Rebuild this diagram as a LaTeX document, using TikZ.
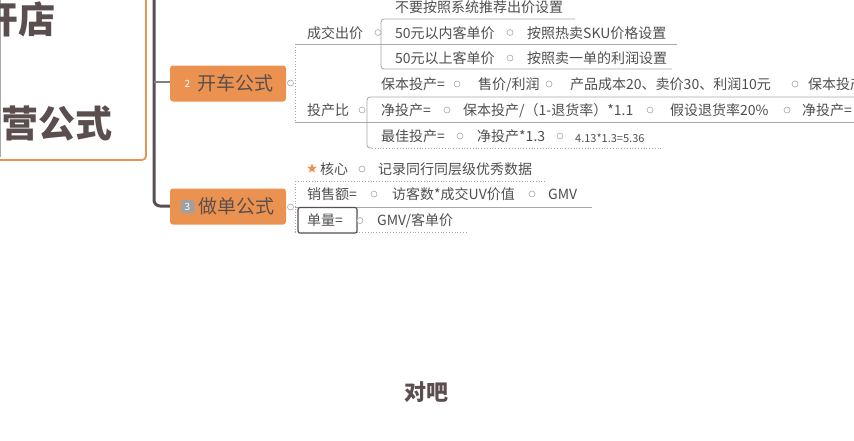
\documentclass[tikz,border=0pt]{standalone}
\usepackage{fontspec}
\setmainfont{Noto Sans CJK SC}
\usetikzlibrary{shapes.geometric}
\definecolor{orng}{HTML}{EC9250}
\definecolor{txtc}{HTML}{4F4F4F}
\definecolor{dark}{HTML}{5A4E4E}
\definecolor{lin}{HTML}{A8A8A8}
\definecolor{icon}{HTML}{A0A0A0}
\begin{document}
\begin{tikzpicture}[x=1pt,y=-1pt,
  t/.style={font=\fontsize{14}{16}\selectfont, text=txtc, inner sep=0pt, anchor=west, text height=11.9pt, text depth=1.4pt},
  ts/.style={t, font=\fontsize{11}{13}\selectfont},
  dotc/.style={circle, draw=lin, fill=white, minimum size=6pt, inner sep=0pt, line width=0.6pt},
  mainn/.style={rectangle, rounded corners=3pt, fill=orng, minimum width=116pt, minimum height=36pt, inner sep=0pt},
  maint/.style={font=\fontsize{19}{22}\selectfont, text=dark, inner sep=0pt, anchor=west, text height=16.2pt, text depth=1.9pt},
  roott/.style={font=\bfseries\fontsize{37}{40}\selectfont, text=dark, inner sep=0pt, anchor=west, text height=31.5pt, text depth=3.7pt},
  ul/.style={draw=lin, line width=0.8pt},
  uld/.style={draw=lin, line width=0.8pt, dotted}
]
\useasboundingbox (0,0) rectangle (854,440);
\clip (0,0) rectangle (854,440);
\fill[white] (0,0) rectangle (854,440);

% root box (clipped)
\draw[orng, line width=1.8pt, rounded corners=4pt] (-20,-20) rectangle (146,160);
\draw[lin, line width=1pt] (0.8,0) -- (0.8,157);
\node[roott] (r1) at (-19,20) {开店};
\node[roott] (r2) at (1,124) {营公式};

% main trunk
\draw[dark, line width=3pt, rounded corners=6pt] (154,-5) -- (154,206) -- (172,206);
\draw[gray, line width=1.2pt] (154,82) -- (172,82);

% main nodes
\node[mainn] (k) at (228,83.5) {};
\node[font=\fontsize{10}{10}\selectfont, text=white, inner sep=0pt] (k2) at (187.5,83.5) {2};
\node[maint] (kt) at (197,83.5) {开车公式};

\node[mainn] (z) at (228,206.5) {};
\node[rectangle, rounded corners=1.5pt, fill=icon, minimum width=14pt, minimum height=13pt, inner sep=0pt] (z3) at (187.5,206.5) {};
\node[font=\fontsize{10}{10}\selectfont, text=white, inner sep=0pt] at (z3) {3};
\node[maint] (zt) at (198,206.5) {做单公式};

% brackets and underlines for 开车公式
\draw[uld] (295,44) -- (295,122);
\draw[ul] (295,44) -- (677,44);
\draw[ul] (295,122) -- (854,122);
\draw[ul, rounded corners=3pt] (575,19) -- (381,19) -- (381,69) -- (672,69);
\draw[ul, rounded corners=3pt] (854,97) -- (367,97) -- (367,148) -- (372,148);
\draw[uld] (372,148) -- (663,148);

% brackets and underlines for 做单公式
\draw[uld] (295,181) -- (295,232);
\draw[uld] (295,181) -- (545,181);
\draw[ul] (295,207) -- (592,207);
\draw[uld] (295,232) -- (468,232);

\node[dotc] (kc) at (290.5,83) {};
\node[dotc] (zc) at (290.5,207) {};

% 成交出价 branch
\node[t] (cj) at (307,33) {成交出价};
\node[dotc] (cjc) at (378,32.5) {};
\node[t] (n1) at (395,7) {不要按照系统推荐出价设置};
\node[t] (n2) at (395,33) {50元以内客单价};
\node[dotc] (n2c) at (510,32.5) {};
\node[t] (n2a) at (527,33) {按照热卖SKU价格设置};
\node[t] (n3) at (395,58) {50元以上客单价};
\node[dotc] (n3c) at (510,58) {};
\node[t] (n3a) at (527,58) {按照卖一单的利润设置};

% 投产比 branch
\node[t] (tc) at (307,110) {投产比};
\node[dotc] (tcc) at (362,110) {};
\node[t] (b1) at (381,84) {保本投产=};
\node[dotc] (b1c) at (457,84) {};
\node[t] (b2) at (478,84) {售价/利润};
\node[dotc] (b2c) at (549,84) {};
\node[t] (b3) at (570,84) {产品成本20、卖价30、利润10元};
\node[dotc] (b3c) at (795,84) {};
\node[t] (b4) at (808,84) {保本投产=};

\node[t] (j1) at (381,110) {净投产=};
\node[dotc] (j1c) at (447,110) {};
\node[t] (j2) at (463,110) {保本投产/（1-退货率）*1.1};
\node[dotc] (j2c) at (650,110) {};
\node[t] (j3) at (670,110) {假设退货率20\%};
\node[dotc] (j3c) at (787,110) {};
\node[t] (j4) at (802,110) {净投产=};

\node[t] (m1) at (381,136) {最佳投产=};
\node[dotc] (m1c) at (460,136) {};
\node[t] (m2) at (477,136) {净投产*1.3};
\node[dotc] (m2c) at (560,136) {};
\node[ts] (m3) at (575,137) {4.13*1.3=5.36};

% 做单公式 branch
\node[star, star points=5, star point ratio=2.3, fill=orng, minimum size=10pt, inner sep=0pt] (st) at (312,168.5) {};
\node[t] (hx) at (320,169) {核心};
\node[dotc] (hxc) at (362,169) {};
\node[t] (hxa) at (378,169) {记录同行同层级优秀数据};

\node[t] (xs) at (307,194) {销售额=};
\node[dotc] (xsc) at (374,194) {};
\node[t] (xsa) at (392,194) {访客数*成交UV价值};
\node[dotc] (xsb) at (532,194) {};
\node[t] (xsg) at (548,194) {GMV};

\draw[dark, line width=1.2pt, fill=white, rounded corners=2pt] (298,207.5) rectangle (357,233);
\node[t] (dl) at (307,220.5) {单量=};
\node[dotc] (dlc) at (360,220.5) {};
\node[t] (dla) at (377,220.5) {GMV/客单价};

% subtitle
\node[font=\bfseries\fontsize{22}{24}\selectfont, text=dark, inner sep=0pt] (sub) at (426,392) {对吧};
\end{tikzpicture}
\end{document}
